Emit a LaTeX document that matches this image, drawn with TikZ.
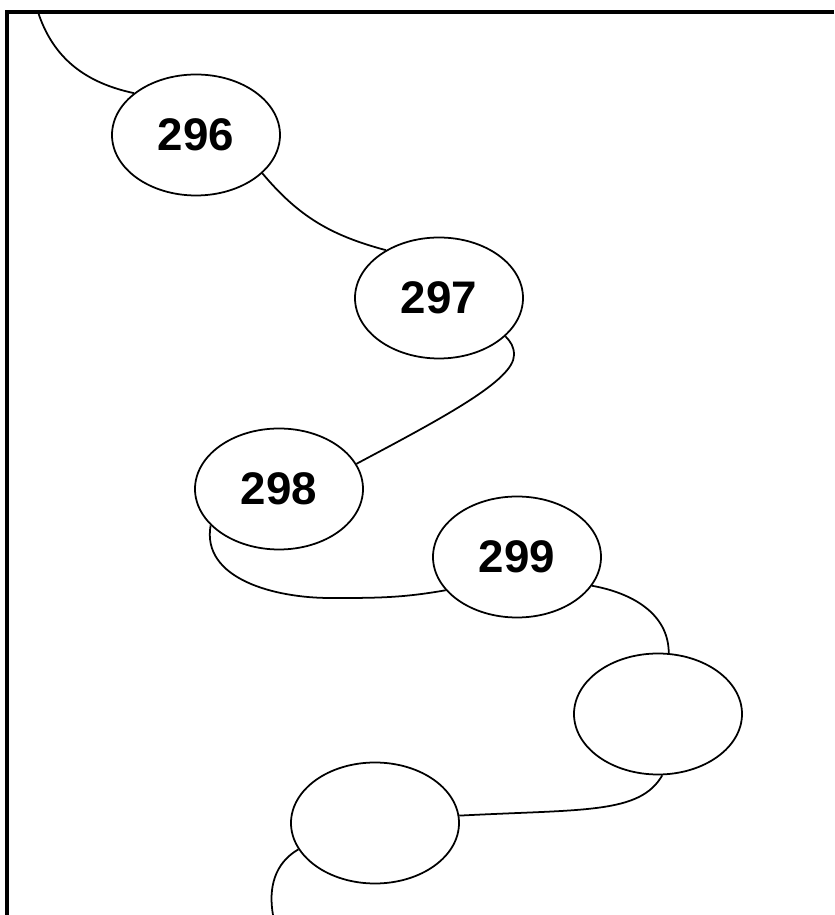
\documentclass[tikz,border=0pt]{standalone}
\usepackage{fontspec}
\setmainfont{Liberation Sans}
\usetikzlibrary{shapes.geometric}

\begin{document}
\begin{tikzpicture}[
            cell/.style={draw, ellipse, line width=1pt, inner sep=0pt,
                minimum width=3.36cm, minimum height=2.42cm,
                font=\bfseries\fontsize{26}{26}\selectfont},
            link/.style={line width=1pt},
            frame/.style={line width=2.2pt}]
        \useasboundingbox (0,0) rectangle (16.68,18.3);
        % page edge
        \draw[frame] (16.68,18.06) -- (0.14,18.06) -- (0.14,0);
        % ends of the chain
        \coordinate (in) at (0.76,18.06);
        \coordinate (out) at (5.46,0);
        \coordinate (bend1) at (10.28,11.2);
        \coordinate (bend2) at (6.6,6.34);
        \node[cell] (n296) at (3.92,15.6) {296};
        \node[cell] (n297) at (8.78,12.34) {297};
        \node[cell] (n298) at (5.58,8.52) {298};
        \node[cell] (n299) at (10.34,7.16) {299};
        \node[cell] (n300) at (13.16,4.02) {};
        \node[cell] (n301) at (7.5,1.84) {};
        \draw[link] (in) to[out=-72,in=168] (n296.146);
        \draw[link] (n296.-30) to[out=-50,in=165] (n297.138);
        \draw[link] (n297.-30) to[out=-45,in=90] (bend1)
            to[out=-90,in=28,out distance=0.5cm,in distance=2cm] (n298.18);
        \draw[link] (n298.208) to[out=-100,in=180] (bend2)
            to[out=0,in=190] (n299.205);
        \draw[link] (n299.-21) to[out=-10,in=90] (n300.80);
        \draw[link] (n300.-86) to[out=-120,in=3,out distance=0.9cm,in distance=2.5cm] (n301.5);
        \draw[link] (n301.199) to[out=210,in=100] (out);
\end{tikzpicture}
\end{document}
